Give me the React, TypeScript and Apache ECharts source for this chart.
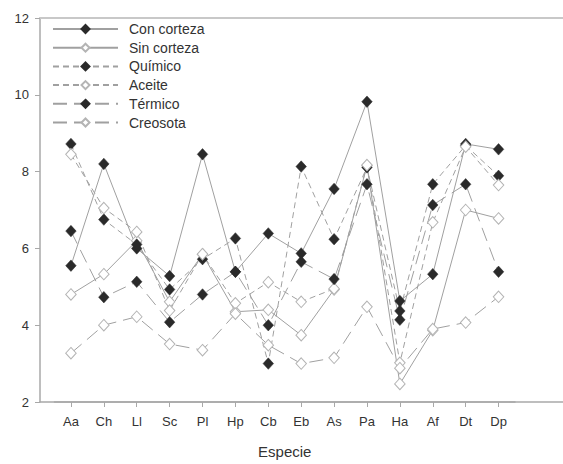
import React, { useEffect, useRef } from "react";
import * as echarts from "echarts";

const categories = ["Aa", "Ch", "Ll", "Sc", "Pl", "Hp", "Cb", "Eb", "As", "Pa", "Ha", "Af", "Dt", "Dp"];
const conCorteza = [5.55, 8.2, 6.0, 5.28, 8.45, 5.39, 6.39, 5.87, 7.55, 9.82, 4.63, 5.33, 8.72, 8.58];
const sinCorteza = [4.8, 5.33, 6.2, 4.61, 5.85, 4.35, 4.4, 3.74, 4.93, 8.15, 2.47, 3.87, 7.0, 6.78];
const quimico = [8.72, 6.75, 6.1, 4.93, 5.72, 6.26, 3.0, 8.13, 6.24, 8.11, 4.37, 7.67, 8.68, 7.89];
const aceite = [8.45, 7.05, 6.43, 4.38, 5.85, 4.57, 5.12, 4.61, 4.95, 8.17, 3.02, 6.68, 8.65, 7.65];
const termico = [6.45, 4.73, 5.13, 4.08, 4.8, 5.39, 4.0, 5.65, 5.2, 7.67, 4.14, 7.13, 7.67, 5.39];
const creosota = [3.27, 4.0, 4.22, 3.51, 3.35, 4.3, 3.48, 3.0, 3.15, 4.48, 2.88, 3.9, 4.07, 4.74];
const yTicks = { min: 2, max: 12, interval: 2 };

const FONT = "'Liberation Sans', Arial, sans-serif";
const LINE = "#a0a0a0";

function mk(name: string, data: number[], filled: boolean, dash: number[] | "solid") {
  return {
    name,
    type: "line",
    xAxisIndex: 2,
    yAxisIndex: 1,
    data,
    symbol: "diamond",
    symbolSize: [10.5, 11.5],
    showAllSymbol: true,
    lineStyle: { color: LINE, width: 1, type: dash },
    itemStyle: filled
      ? { color: "#2a2a2a", borderColor: "#2a2a2a", borderWidth: 0.5 }
      : { color: "#ffffff", borderColor: "#b4b4b4", borderWidth: 1 },
    emphasis: { disabled: true },
  };
}

export default function App() {
  const ref = useRef<HTMLDivElement>(null);
  useEffect(() => {
    const chart = echarts.init(ref.current!, undefined, { renderer: "svg" });
    const short = [6, 4];
    const long = [14, 7];
    chart.setOption({
      animation: false,
      backgroundColor: "#ffffff",
      textStyle: { fontFamily: FONT },
      grid: [
        { left: 40, right: 0, top: 18, bottom: 62 },
        { left: 54.5, right: 48, top: 18, bottom: 62 },
      ],
      legend: {
        orient: "vertical",
        left: 47,
        top: 17,
        itemWidth: 65,
        itemHeight: 10,
        itemGap: 4.7,
        textStyle: { fontFamily: FONT, fontSize: 14, color: "#333", padding: [0, 0, 0, 6] },
        selectedMode: false,
        data: ["Con corteza", "Sin corteza", "Químico", "Aceite", "Térmico", "Creosota"],
      },
      xAxis: [
        {
          gridIndex: 0,
          type: "value",
          min: 0,
          max: 1,
          position: "bottom",
          axisLine: { show: true, lineStyle: { color: "#a8a8a8", width: 1.5 } },
          axisTick: { show: false },
          axisLabel: { show: false },
          splitLine: { show: false },
        },
        {
          gridIndex: 0,
          type: "value",
          min: 0,
          max: 1,
          position: "top",
          axisLine: { show: true, lineStyle: { color: "#c8c8c8", width: 2 } },
          axisTick: { show: false },
          axisLabel: { show: false },
          splitLine: { show: false },
        },
        {
          gridIndex: 1,
          type: "category",
          data: categories,
          boundaryGap: true,
          axisLine: { show: true, lineStyle: { color: "#a8a8a8", width: 1.5 } },
          axisTick: { show: true, alignWithLabel: true, length: 5, lineStyle: { color: "#a8a8a8", width: 1 } },
          axisLabel: { color: "#333", fontSize: 13, margin: 13, fontFamily: FONT },
          splitLine: { show: false },
          name: "Especie",
          nameLocation: "middle",
          nameGap: 42,
          nameTextStyle: { color: "#333", fontSize: 15, fontFamily: FONT },
        },
      ],
      yAxis: [
        {
          gridIndex: 0,
          type: "value",
          min: yTicks.min,
          max: yTicks.max,
          interval: yTicks.interval,
          axisLine: { show: true, lineStyle: { color: "#a8a8a8", width: 1.5 } },
          axisTick: { show: true, inside: false, length: 5, lineStyle: { color: "#a8a8a8", width: 1 } },
          axisLabel: { color: "#333", fontSize: 13, margin: 11, fontFamily: FONT },
          splitLine: { show: false },
        },
        {
          gridIndex: 1,
          type: "value",
          min: yTicks.min,
          max: yTicks.max,
          interval: yTicks.interval,
          show: false,
          splitLine: { show: false },
        },
      ],
      series: [
        mk("Con corteza", conCorteza, true, "solid"),
        mk("Sin corteza", sinCorteza, false, "solid"),
        mk("Químico", quimico, true, short),
        mk("Aceite", aceite, false, short),
        mk("Térmico", termico, true, long),
        mk("Creosota", creosota, false, long),
      ],
    });
    return () => chart.dispose();
  }, []);
  return <div ref={ref} style={{ width: 563, height: 464, position: "absolute", left: 0, top: 0 }} />;
}
